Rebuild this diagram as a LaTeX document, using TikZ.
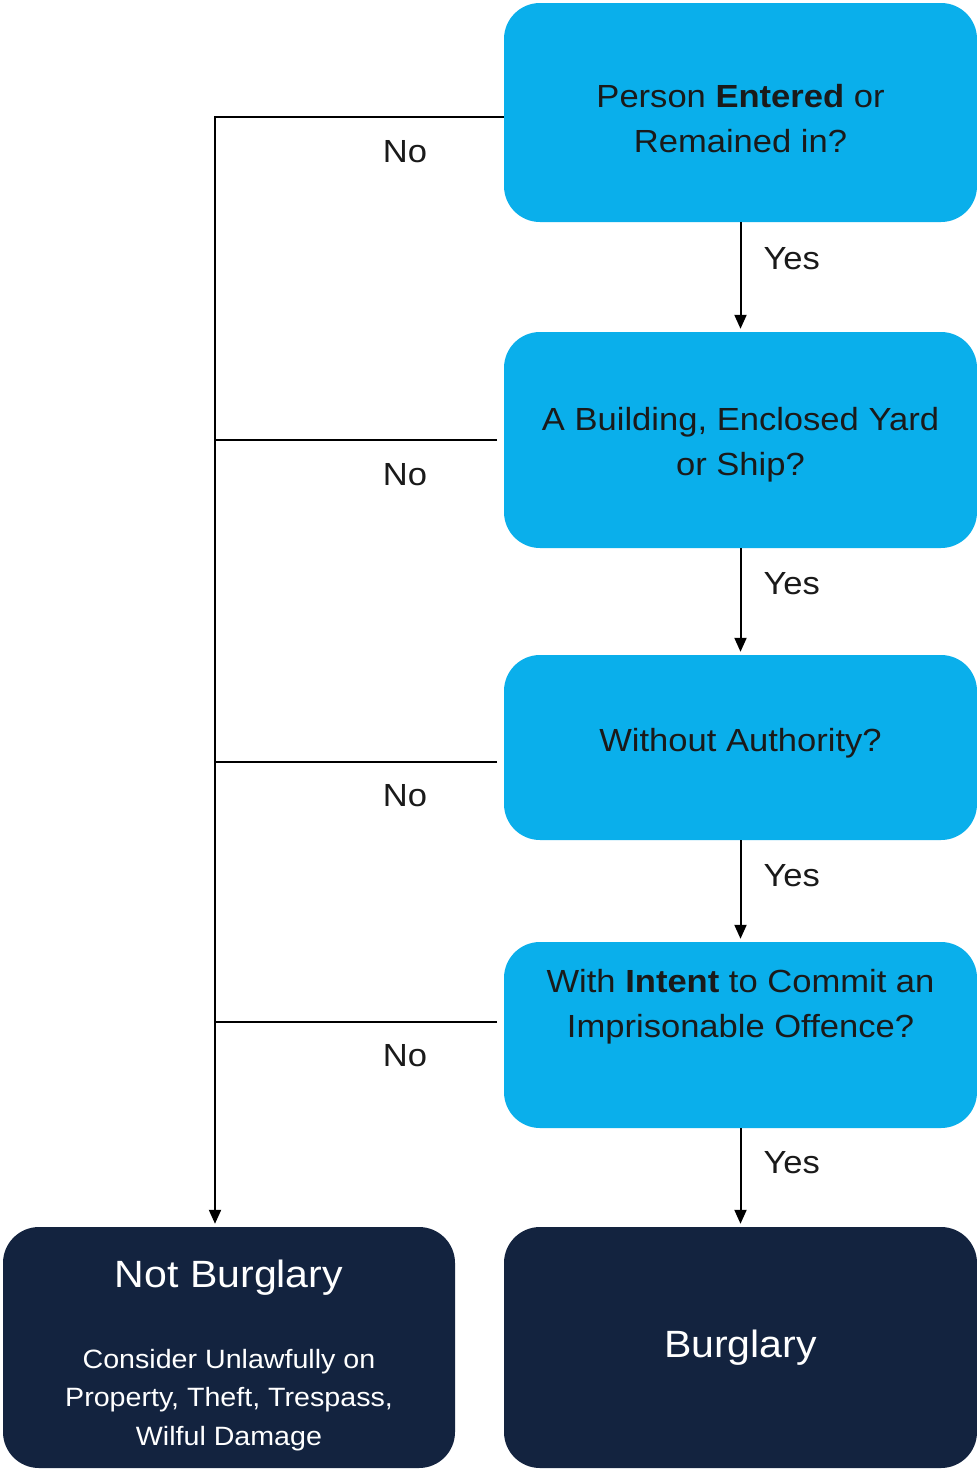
\documentclass[tikz,border=0pt]{standalone}
\usepackage{fontspec}
\setmainfont[FakeStretch=1.08]{Liberation Sans}
\usetikzlibrary{arrows.meta}
\definecolor{qblue}{HTML}{0AAFEB}
\definecolor{navy}{HTML}{13233F}
\definecolor{txt}{HTML}{1A1A1A}
\tikzset{
  qbox/.style={rectangle, rounded corners=36pt, fill=qblue, draw=none, text=txt,
    minimum width=473pt, align=center, font=\fontsize{32}{45}\selectfont, inner sep=0pt},
  qtext/.style={align=center, text=txt, font=\fontsize{32}{45}\selectfont, inner sep=0pt},
  endbox/.style={rectangle, rounded corners=36pt, fill=navy, draw=none, text=white,
    align=center, inner sep=0pt, minimum height=241pt},
  conn/.style={line width=2pt, draw=black},
  arr/.style={conn, -{Triangle[length=14pt,width=12pt]}, shorten >=3pt},
  lbl/.style={font=\fontsize{32}{36}\selectfont, text=txt, inner sep=0pt}
}
\begin{document}
\begin{tikzpicture}[x=1pt,y=-1pt]
\useasboundingbox (0,0) rectangle (977,1470);
\fill[white] (0,0) rectangle (977,1470);
% question boxes
\node[qbox, minimum height=219pt] (b1) at (740.5,112.5) {};
\node[qtext] (b1t) at (740.5,119) {Person \textbf{Entered} or\\Remained in?};
\node[qbox, minimum height=216pt] (b2) at (740.5,440) {};
\node[qtext] (b2t) at (740.5,445) {A Building,\ Enclosed Yard\\or Ship?};
\node[qbox, minimum height=185pt] (b3) at (740.5,747.5) {};
\node[qtext] (b3t) at (740.5,743) {Without Authority?};
\node[qbox, minimum height=186pt] (b4) at (740.5,1035) {};
\node[qtext] (b4t) at (740.5,1007) {With \textbf{Intent} to Commit an\\Imprisonable Offence?};
% outcome boxes
\node[endbox, minimum width=452pt] (nb) at (229,1347.5) {};
\node[font=\fontsize{38}{44}\selectfont, text=white, inner sep=0pt] (nbt) at (229,1278) {Not Burglary};
\node[font=\fontsize{26.5}{38.5}\selectfont, text=white, align=center, inner sep=0pt] (nbs) at (229,1400) {Consider Unlawfully\ on\\Property, Theft, Trespass,\\Wilful Damage};
\node[endbox, minimum width=473pt, font=\fontsize{38}{44}\selectfont] (bg) at (740.5,1347.5) {Burglary};
% yes arrows
\draw[arr] (b1.south) -- (b2.north) node[pos=0.33, right=22pt, lbl] {Yes};
\draw[arr] (b2.south) -- (b3.north) node[pos=0.33, right=22pt, lbl] {Yes};
\draw[arr] (b3.south) -- (b4.north) node[pos=0.35, right=22pt, lbl] {Yes};
\draw[arr] (b4.south) -- (bg.north) node[pos=0.35, right=22pt, lbl] {Yes};
% no trunk
\coordinate (trunk) at (215,117);
\draw[arr] (b1.west |- trunk) -- (trunk) -- (trunk |- nb.north);
\coordinate (n2) at (497,440);
\coordinate (n3) at (497,762);
\coordinate (n4) at (497,1022);
\draw[conn] (n2) -- (n2 -| trunk);
\draw[conn] (n3) -- (n3 -| trunk);
\draw[conn] (n4) -- (n4 -| trunk);
\node[lbl] (no1) at (405,152) {No};
\node[lbl] (no2) at (405,475) {No};
\node[lbl] (no3) at (405,796) {No};
\node[lbl] (no4) at (405,1056) {No};
\end{tikzpicture}
\end{document}
